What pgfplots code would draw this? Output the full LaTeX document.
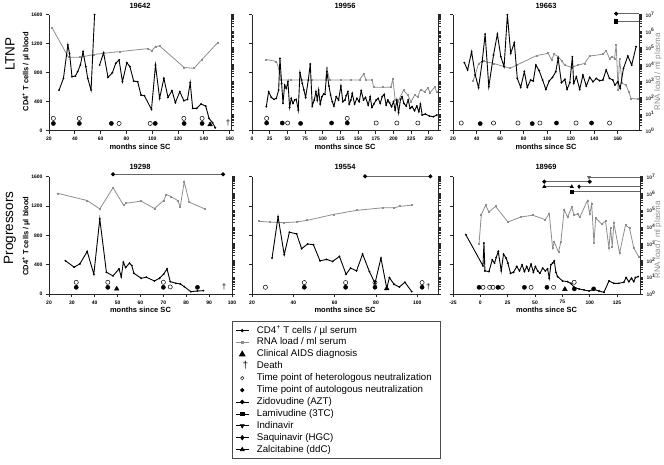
\documentclass[border=0pt]{standalone}
\usepackage{fontspec}
\setmainfont{Liberation Sans}
\usepackage{pgfplots}
\pgfplotsset{compat=1.18}
\definecolor{rnagray}{HTML}{8E8E8E}
\pgfplotsset{
  base/.style={scale only axis, anchor=south west, clip=false,
    tick align=outside, major tick length=3pt,
    axis line style={line width=0.9pt, black!85},
    every tick/.style={line width=0.8pt, black!85},
    tick label style={font=\fontsize{5}{6}\selectfont\bfseries},
    /pgf/number format/assume math mode=true,
    /pgf/number format/1000 sep={}},
  cd4ax/.style={base, axis x line*=bottom, axis y line*=left,
    ymin=0, ymax=1600, ytick={0,400,800,1200,1600},
    xlabel={months since SC},
    xlabel style={at={(axis description cs:0.5,0)}, anchor=center, yshift=-16pt,
      font=\fontsize{7.5}{9}\selectfont\bfseries}},
  rnaax/.style={base, axis x line=none, axis y line*=right,
    ymin=1, ymax=1e7, ytick={1,10,100,1000,10000,100000,1000000,10000000},
    yticklabels={,,,,,,,}},
  rnalabels/.style={yticklabels={10\textsuperscript{0},10\textsuperscript{1},10\textsuperscript{2},10\textsuperscript{3},10\textsuperscript{4},10\textsuperscript{5},10\textsuperscript{6},10\textsuperscript{7}},
    yticklabel style={font=\fontsize{5}{6}\selectfont\bfseries, black!80}},
  cdline/.style={black, line width=0.9pt, mark=*, mark size=0.4pt},
  rnaline/.style={rnagray, line width=0.8pt, mark=square*, mark size=0.5pt},
  het/.style={only marks, mark=o, mark size=2.1pt, black, line width=0.5pt},
  aut/.style={only marks, mark=*, mark size=2.1pt, black},
  aids/.style={only marks, mark=triangle*, mark size=2.7pt, black},
  death/.style={only marks, mark=text, text mark={\fontsize{8}{9}\selectfont †}},
  drug/.style={black!60, line width=0.8pt, mark options={black, fill=black}, mark size=1.6pt},
}
\begin{document}
\begin{tikzpicture}
\path[use as bounding box] (0,0) rectangle (664pt,-464pt);

% ---------------- Panel 1: 19642
\begin{semilogyaxis}[rnaax, at={(49pt,-130.7pt)}, width=182pt, height=116pt, xmin=20, xmax=161]
\addplot[rnaline] coordinates {(22.6,1.5e6)(35.1,2.7e4)(44.3,2.7e4)(54.7,4.0e4)(75,6.0e4)(96.5,8.9e4)(99.7,6.8e4)(102.5,1.2e5)(105.7,1.3e5)(124.7,6.6e3)(132.3,5.8e3)(138.3,1.9e4)(150.8,2.1e5)};
\end{semilogyaxis}
\begin{axis}[cd4ax, at={(49pt,-130.7pt)}, width=182pt, height=116pt, xmin=20, xmax=161, xtick={20,40,...,160}]
\addplot[cdline] coordinates {(27.8,561)(31.2,722)(34.6,1182)(35.9,1067)(37.8,745)(40.4,754)(42.2,814)(44.3,906)(46.4,1090)(48.5,883)(50,722)(52.6,561)(55.3,1600)};
\addplot[cdline] coordinates {(59.2,906)(62.3,1076)(65.7,736)(69.1,800)(71.7,929)(74.3,975)(76.9,676)(80.3,938)(82.7,883)(85.6,685)(88.7,676)(91.3,492)(93.9,483)(99.4,294)(102.5,906)(105.7,446)(109,722)(112.2,460)(115.3,552)(117.9,386)(121.3,538)(124.5,414)(127.3,432)(129.4,662)(131.3,308)(134.4,308)(137.8,368)(141.4,340)(144,170)(146.7,110)(148.8,41)};
\addplot[het] coordinates {(23.4,170)(43.5,170)(74.3,100)(98.4,100)(124.5,170)(138.6,170)};
\addplot[aut] coordinates {(23.4,100)(43.5,100)(68.3,100)(102.3,100)(124.7,100)(138.6,100)};
\addplot[aids] coordinates {(144.8,85)};
\addplot[death] coordinates {(158.7,110)};
\end{axis}

% ---------------- Panel 2: 19956
\begin{semilogyaxis}[rnaax, at={(252pt,-130.7pt)}, width=186pt, height=116pt, xmin=0, xmax=263]
\addplot[rnaline] coordinates {(20.2,2.0e4)(34.4,1.5e4)(38.1,5.2e3)(41.4,1.15e3)(55,1.15e3)(70,1.15e3)(85,1.15e3)(104,1.15e3)(105.9,5.8e3)(109.7,1.15e3)(125,1.15e3)(140,1.15e3)(152,1.15e3)(157.7,2.6e3)(161.5,1.15e3)(170,1.15e3)(171.8,4.2e2)(185,4.2e2)(196.3,4.2e2)(199.2,1.3e3)(202.4,71)(206.2,56)(214.2,2.8e2)(220.3,1.4e2)(225,56)(229.8,1.4e2)(234.5,1.1e2)(238.2,3.1e2)(243.9,2.2e2)(248.6,3.8e2)(251.9,1.95e2)(258,4.2e2)(261.3,2.2e2)};
\end{semilogyaxis}
\begin{axis}[cd4ax, at={(252pt,-130.7pt)}, width=186pt, height=116pt, xmin=0, xmax=263, xtick={0,25,...,250}, yticklabels={,,,,}]
\addplot[cdline] coordinates {(20.2,331)(23.5,538)(27.3,460)(31,432)(34.4,446)(37.7,561)(39.5,998)(41.9,653)(43.8,377)(46.1,630)(48.5,584)(50.8,676)(53.2,322)(55.5,446)(57.9,377)(60.3,423)(62.6,432)(65.4,285)(67.8,800)(71.1,653)(73.4,561)(75.8,460)(79.6,699)(82.4,920)(85.2,340)(88,423)(90.4,538)(92.3,423)(94.2,561)(96.5,368)(98.9,469)(101.2,506)(103.1,501)(105.9,814)(108.8,616)(111.1,492)(113.5,400)(115.8,340)(119.1,469)(122.4,423)(125.7,616)(128.5,400)(131.4,423)(133.2,483)(135.6,538)(137.5,368)(139.8,423)(141.7,515)(145,368)(148.3,446)(151.6,400)(154.4,552)(157.7,423)(160.5,460)(164.3,354)(167.1,469)(169.5,322)(172.3,368)(175.6,423)(178.4,446)(181.3,377)(184.1,469)(186.9,501)(189.7,354)(192.1,423)(194.4,386)(197.3,331)(200.1,400)(202.4,285)(204.8,423)(207.2,248)(210,432)(212.3,469)(214.7,377)(218,340)(220.8,423)(223.6,308)(226.5,331)(229.8,276)(233,340)(235.9,262)(238.2,368)(240.6,216)(245.3,230)(251,202)(256.6,193)(261.3,216)};
\addplot[het] coordinates {(20.7,170)(50.4,106)(134.7,170)(175.6,106)(204.8,106)(234.5,106)};
\addplot[aut] coordinates {(20.7,106)(42.8,106)(68.7,100)(112.5,106)(134.7,106)};
\end{axis}

% ---------------- Panel 3: 19663
\begin{semilogyaxis}[rnaax, rnalabels, at={(453pt,-130.7pt)}, width=186pt, height=116pt, xmin=20, xmax=178]
\addplot[rnaline] coordinates {(36.9,1.0e3)(38.9,2.3e3)(41.7,1.15e4)(45.9,1.6e4)(54.4,1.15e4)(68.5,5.8e3)(74.1,9.1e3)(91,3.4e4)(100.8,4.7e4)(103.7,1.9e4)(105.9,4.1e4)(109.3,3.0e4)(112.1,1.7e4)(114.9,9.1e3)(120.6,6.6e3)(126.2,9.1e3)(131.8,1.15e4)(136.1,3.2e4)(147.3,4.1e4)(150.1,6.8e4)(152.9,2.3e4)(155.2,3.0e4)(157.2,2.3e4)(158.6,1.5e5)(160.3,2.8e2)(161.4,2.3e4)(163.7,7.2e2)(167,5.8e2)(169.3,2.2e2)(171.3,89)(176.9,81)};
\end{semilogyaxis}
\begin{axis}[cd4ax, at={(453pt,-130.7pt)}, width=186pt, height=116pt, xmin=20, xmax=178, xtick={20,40,...,160}, yticklabels={,,,,}]
\addplot[cdline] coordinates {(29.6,938)(32.4,837)(35.8,1090)(38.9,768)(41.7,593)(44.8,952)(47.3,1333)(50.4,607)(54.4,1044)(57.7,1333)(60.6,1021)(63.4,883)(66.2,1600)(69,1067)(72.1,1214)(74.6,722)(77.5,598)(80.6,814)(83.1,598)(85.9,699)(88.2,685)(90.4,906)(93.2,828)(96.1,699)(98.9,570)(101.7,685)(104.5,736)(107.3,814)(109.3,998)(112.1,662)(115,708)(116.9,570)(119.2,662)(121.4,1021)(122.5,653)(124.8,745)(127.6,570)(130.4,768)(133.2,616)(136.1,736)(138.9,676)(141.7,722)(144.5,690)(147.3,699)(150.1,837)(152.9,722)(155.8,699)(157.5,630)(160,676)(162,584)(164.8,860)(168.5,1030)(171.8,906)(175.5,1159)};
\addplot[het] coordinates {(27,106)(54.4,106)(75.2,106)(93.8,106)(124.5,106)(153,106)};
\addplot[aut] coordinates {(43.1,98)(87.3,98)(107.9,106)(137.7,106)};
\addplot[drug, mark=*, mark indices={1}] coordinates {(158.6,1614)(178,1614)};
\addplot[drug, mark=square*, mark indices={1}] coordinates {(158.6,1509)(178,1509)};
\end{axis}

% ---------------- Panel 4: 19298
\begin{semilogyaxis}[rnaax, at={(49pt,-294pt)}, width=183pt, height=117.3pt, xmin=20, xmax=100]
\addplot[rnaline] coordinates {(24.1,1.0e6)(36.7,3.8e5)(42.2,1.2e5)(48,2.2e6)(52.6,2.0e5)(53.8,2.6e5)(60.3,3.5e5)(66.1,1.26e5)(70.1,3.8e5)(71.3,8.7e5)(73.3,6.6e5)(76.2,3.8e5)(77.4,1.66e5)(79.1,5.0e6)(81.3,3.0e5)(88.1,1.2e5)};
\end{semilogyaxis}
\begin{axis}[cd4ax, at={(49pt,-294pt)}, width=183pt, height=117.3pt, xmin=20, xmax=100, xtick={20,30,...,100}]
\addplot[cdline] coordinates {(27.2,453)(31,366)(33.5,411)(36.7,580)(39.6,270)(42.2,1024)(45.1,297)(48,247)(50.6,343)(51.6,233)(52.5,434)(53.5,361)(55.2,421)(56.2,389)(57.1,283)(60.3,215)(62.5,229)(66.1,178)(68.3,215)(70.1,270)(71.6,343)(73,169)(75.5,146)(77.4,137)(79.1,101)(82,32)(84.9,41)(87.5,46)};
\addplot[het] coordinates {(31.9,160)(45.7,160)(70,160)(73,96)};
\addplot[aut] coordinates {(31.9,91)(45.7,91)(70,91)(84.9,91)};
\addplot[aids] coordinates {(49.6,70)};
\addplot[death] coordinates {(96.5,100)};
\addplot[drug, mark=*] coordinates {(48,1633)(96.1,1633)};
\end{axis}

% ---------------- Panel 5: 19554
\begin{semilogyaxis}[rnaax, at={(252pt,-294pt)}, width=186pt, height=117.3pt, xmin=20, xmax=110]
\addplot[rnaline] coordinates {(23.2,2.2e4)(28.7,1.95e4)(35.2,1.8e4)(41.6,2.0e4)(46.8,2.5e4)(59.4,5.6e4)(70.6,9.8e4)(83.2,1.4e5)(88.7,1.4e5)(91.6,1.7e5)(97.3,2.0e5)};
\end{semilogyaxis}
\begin{axis}[cd4ax, at={(252pt,-294pt)}, width=186pt, height=117.3pt, xmin=20, xmax=110, xtick={20,40,...,100}, yticklabels={,,,,}]
\addplot[cdline] coordinates {(29.7,490)(32.6,1053)(35.6,536)(38.1,843)(41.6,820)(44,618)(46.9,682)(49.7,673)(52.9,453)(56.1,472)(59,444)(62.3,513)(65.5,270)(67.7,353)(70.6,316)(73.5,545)(76.8,307)(79.5,147)(82.4,490)(85.2,78)(86.5,224)(88.7,133)(91.3,96)(94,160)(97.3,32)};
\addplot[het] coordinates {(26.5,92)(45.3,156)(65.3,156)(79.5,156)(102.3,156)};
\addplot[aut] coordinates {(45.3,92)(65.3,92)(79.5,92)(102.3,92)};
\addplot[aids] coordinates {(85.2,75)};
\addplot[death] coordinates {(105.3,92)};
\addplot[drug, mark=*] coordinates {(74.7,1605)(106.3,1605)};
\end{axis}

% ---------------- Panel 6: 18969
\begin{semilogyaxis}[rnaax, rnalabels, at={(453pt,-294pt)}, width=187pt, height=117.3pt, xmin=-25, xmax=146]
\addplot[rnaline] coordinates {(-1.2,1.0e3)(0.9,5.5e4)(4.8,2.0e5)(7.9,7.9e4)(13.9,1.7e5)(25.2,2.0e4)(37.3,4.0e4)(47.9,5.0e4)(59.4,2.75e4)(63,6.3e4)(66.1,5.5e2)(67.6,1.26e3)(71.5,3.2e2)(73.6,1.26e3)(76.7,1.1e5)(79.7,3.8e4)(83.6,1.5e5)(85.8,5.0e4)(88.8,6.0e4)(90.9,3.8e4)(97.9,3.8e5)(100,6.0e4)(101.8,2.4e5)(103.9,1.1e3)(105.5,3.5e4)(110.9,1.5e4)(114.5,2.2e4)(117.6,5.5e2)(119.1,8.7e3)(120.6,6.9e2)(122.1,1.7e4)(127.3,2.75e2)(132.7,1.26e4)(136.4,8.7e3)(140.3,5.5e2)(144.8,1.7e2)};
\end{semilogyaxis}
\begin{axis}[cd4ax, at={(453pt,-294pt)}, width=187pt, height=117.3pt, xmin=-25, xmax=146, xtick={-25,0,...,125}, yticklabels={,,,,}]
\addplot[cdline] coordinates {(-13.3,809)(2.4,384)(3.3,695)(4.2,315)(7.9,306)(10.9,466)(13,421)(14.5,498)(16.4,580)(19.1,315)(21.2,544)(23.6,489)(25.2,421)(27.6,283)(30.3,297)(33.3,375)(35.8,315)(38.2,398)(40.3,306)(42.4,375)(44.2,315)(46.4,407)(48.5,297)(50.3,375)(52.4,315)(54.5,283)(57,352)(59.4,315)(61.5,343)(63,215)(64.5,398)(66.1,421)(67.6,453)(69.1,297)(70.6,238)(75.2,178)(79.7,169)(82.7,146)(85.8,91)(90.3,69)(94.8,55)(99.4,41)(103.9,64)(108.5,41)(113,23)(117.6,178)(122.1,146)(126.7,146)(131.2,160)(133.3,224)(135.8,169)(138.2,215)(140.3,169)(141.8,224)(144.2,238)};
\addplot[het] coordinates {(2.4,91)(8.5,91)(11.5,91)(20,91)(46.4,91)(67,91)(85.8,160)};
\addplot[aut] coordinates {(-1.2,91)(16.1,91)(40.3,91)(60.9,91)(86,70)(103.6,70)};
\addplot[aids] coordinates {(77.3,65)};
\addplot[drug, mark=triangle*, mark options={rotate=180}, mark indices={1}] coordinates {(99.4,1592)(146,1592)};
\addplot[drug, mark=*] coordinates {(58.5,1532)(100,1532)};
\addplot[drug, mark=triangle*] coordinates {(58.5,1464)(83.6,1464)};
\addplot[drug, mark=diamond*, mark indices={1}] coordinates {(90.3,1464)(146,1464)};
\addplot[drug, mark=square*, mark indices={1}] coordinates {(83.6,1395)(146,1395)};
\end{axis}

% ---------------- Legend
\begin{axis}[hide axis, scale only axis, width=211pt, height=141pt, at={(232pt,-462pt)}, anchor=south west,
  xmin=0, xmax=1, ymin=0, ymax=1,
  legend style={at={(0,1)}, anchor=north west, draw=black!70, line width=0.8pt,
    font=\fontsize{9.7}{11}\selectfont, cells={anchor=west}, row sep=0.6pt,
    inner xsep=3pt, inner ysep=3.5pt,
    /tikz/every odd column/.append style={column sep=7pt},
    nodes={inner sep=0.8pt, text height=7.3pt, text depth=2.4pt}},
  legend image code/.code={\draw[mark repeat=2, mark phase=2, #1] plot coordinates {(0pt,0pt) (6.5pt,0pt) (13pt,0pt)};}]
\addlegendimage{black, line width=0.7pt, mark=*, mark size=1.2pt}
\addlegendentry{CD4\textsuperscript{+} T cells / µl serum}
\addlegendimage{rnagray, line width=0.7pt, mark=square*, mark size=1.1pt}
\addlegendentry{RNA load / ml serum}
\addlegendimage{legend image code/.code={\draw[black, mark=triangle*, mark size=3.2pt] plot coordinates {(6.5pt,0pt)};}}
\addlegendentry{Clinical AIDS diagnosis}
\addlegendimage{legend image code/.code={\node[inner sep=0pt, font=\fontsize{10}{11}\selectfont] at (6.5pt,0pt) {†};}}
\addlegendentry{Death}
\addlegendimage{legend image code/.code={\draw[black, line width=0.5pt, mark=o, mark size=1.7pt] plot coordinates {(6.5pt,0pt)};}}
\addlegendentry{Time point of heterologous neutralization\hspace*{5pt}}
\addlegendimage{legend image code/.code={\draw[black, mark=*, mark size=1.7pt] plot coordinates {(6.5pt,0pt)};}}
\addlegendentry{Time point of autologous neutralization}
\addlegendimage{black, line width=0.7pt, mark=*, mark size=1.8pt}
\addlegendentry{Zidovudine (AZT)}
\addlegendimage{black, line width=0.7pt, mark=square*, mark size=1.6pt}
\addlegendentry{Lamivudine (3TC)}
\addlegendimage{black, line width=0.7pt, mark=triangle*, mark options={rotate=180}, mark size=2.2pt}
\addlegendentry{Indinavir}
\addlegendimage{black, line width=0.7pt, mark=diamond*, mark size=2.2pt}
\addlegendentry{Saquinavir (HGC)}
\addlegendimage{black, line width=0.7pt, mark=triangle*, mark size=2.2pt}
\addlegendentry{Zalcitabine (ddC)}
\end{axis}

% ---------------- Texts
\node[font=\fontsize{7.5}{9}\selectfont\bfseries] at (140pt,-5.5pt) {19642};
\node[font=\fontsize{7.5}{9}\selectfont\bfseries] at (345pt,-5.5pt) {19956};
\node[font=\fontsize{7.5}{9}\selectfont\bfseries] at (546pt,-5.5pt) {19663};
\node[font=\fontsize{7.5}{9}\selectfont\bfseries] at (140pt,-167pt) {19298};
\node[font=\fontsize{7.5}{9}\selectfont\bfseries] at (345pt,-167pt) {19554};
\node[font=\fontsize{7.5}{9}\selectfont\bfseries] at (546pt,-167pt) {18969};
\node[rotate=90, font=\fontsize{13.5}{15}\selectfont] at (10pt,-54pt) {LTNP};
\node[rotate=90, font=\fontsize{13.5}{15}\selectfont] at (10pt,-228pt) {Progressors};
\node[rotate=90, font=\fontsize{7.5}{9}\selectfont\bfseries] at (26pt,-71.5pt) {CD4\textsuperscript{+} T cells / µl blood};
\node[rotate=90, font=\fontsize{7.5}{9}\selectfont\bfseries] at (26pt,-236pt) {CD4\textsuperscript{+} T cells / µl blood};
\node[rotate=90, font=\fontsize{8}{9}\selectfont, rnagray] at (658pt,-72pt) {RNA load / ml plasma};
\node[rotate=90, font=\fontsize{8}{9}\selectfont, rnagray] at (658pt,-240pt) {RNA load / ml plasma};
\end{tikzpicture}
\end{document}
